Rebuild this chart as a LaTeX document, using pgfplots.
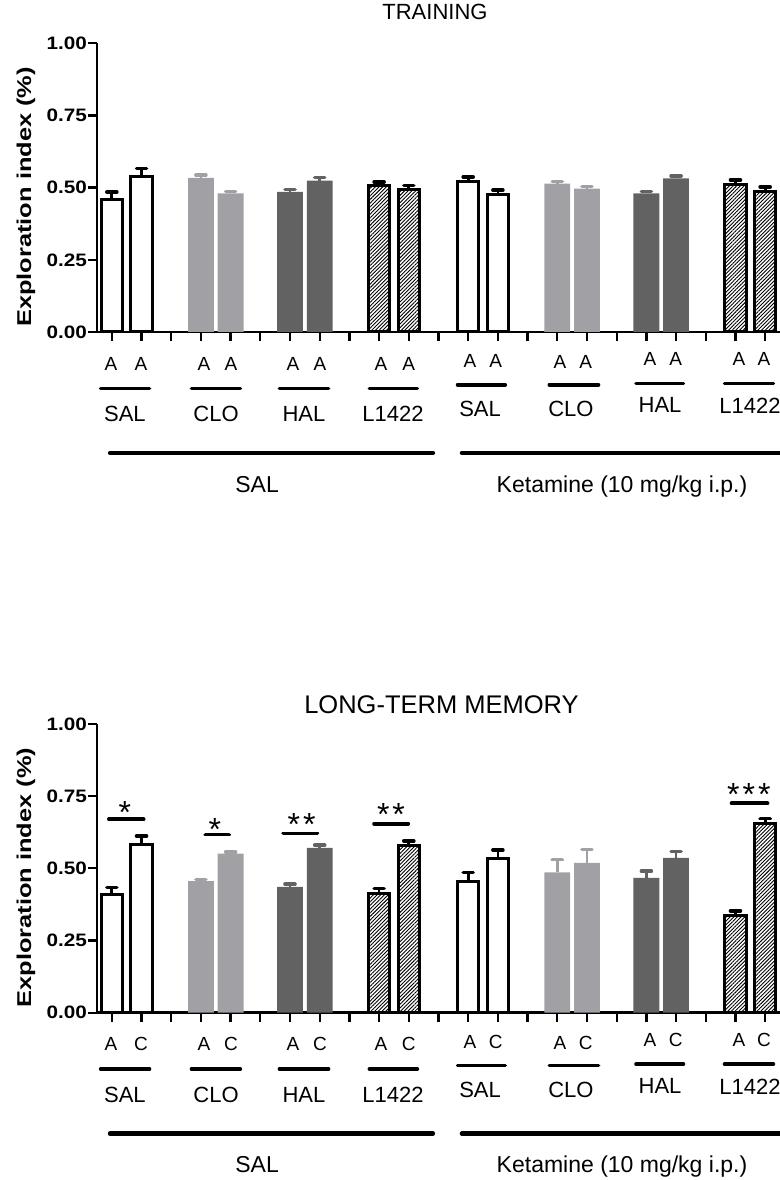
\documentclass[border=0pt]{standalone}
\usepackage{fontspec}
\setmainfont{Liberation Sans}
\usepackage{graphicx}
\usepackage{pgfplots}
\pgfplotsset{compat=1.18}
\usetikzlibrary{patterns.meta}

\definecolor{lgray}{RGB}{161,161,165}
\definecolor{dgray}{RGB}{98,98,98}

\newcommand{\fs}[1]{\fontsize{#1bp}{#1bp}\selectfont}

\pgfplotsset{
  panel/.style={
    scale only axis, width=683bp, height=288.7bp,
    anchor=south west,
    xmin=0.5, xmax=23.5, ymin=0, ymax=1,
    axis lines=left,
    axis line style={line width=2.7bp, -},
    xtick={1,...,23}, xticklabels={},
    ytick={0,0.25,0.5,0.75,1},
    yticklabels={\scalebox{1.15}[1]{0.00},\scalebox{1.15}[1]{0.25},\scalebox{1.15}[1]{0.50},\scalebox{1.15}[1]{0.75},\scalebox{1.15}[1]{1.00}},
    yticklabel style={font=\fs{18}\bfseries, inner sep=1bp},
    tick align=outside, major tick length=9bp,
    tick style={line width=2.3bp, black},
    clip=false,
  },
  wbar/.style={ybar, bar width=0.72, bar shift=0pt, draw=black, fill=white, line width=3bp,
    error bars/.cd, y dir=plus, y explicit, error mark=-,
    error bar style={line width=2.7bp, draw=black},
    error mark options={rotate=90, line width=3.6bp, mark size=5bp, draw=black, line cap=round}},
  hbar/.style={ybar, bar width=0.72, bar shift=0pt, draw=black, line width=3bp,
    pattern={Lines[angle=45,distance=2.6bp,line width=0.9bp]}, pattern color=black,
    error bars/.cd, y dir=plus, y explicit, error mark=-,
    error bar style={line width=2.7bp, draw=black},
    error mark options={rotate=90, line width=3.6bp, mark size=5bp, draw=black, line cap=round}},
  gbar/.style={ybar, bar width=0.87, bar shift=0pt, draw=none, fill=#1,
    error bars/.cd, y dir=plus, y explicit, error mark=-,
    error bar style={line width=2.7bp, draw=#1},
    error mark options={rotate=90, line width=3.6bp, mark size=5bp, draw=#1, line cap=round}},
}

\tikzset{
  lt/.style={anchor=base, font=\fs{19}, inner sep=0pt},
  ct/.style={anchor=base, font=\fs{22}, inner sep=0pt},
  gt/.style={anchor=base, font=\fs{23}, inner sep=0pt},
  st/.style={anchor=base, font=\fs{32}, inner sep=0pt},
  sl/.style={line width=3.5bp, line cap=round},
  ll/.style={line width=4.5bp, line cap=round},
}

% labels under each panel; #1 = second letter of each pair
\newcommand{\annot}[1]{%
  \node[lt] at (axis cs:0.97,-0.132) {A};  \node[lt] at (axis cs:1.98,-0.132) {#1};
  \node[lt] at (axis cs:4.10,-0.132) {A};  \node[lt] at (axis cs:5.01,-0.132) {#1};
  \node[lt] at (axis cs:7.10,-0.132) {A};  \node[lt] at (axis cs:8.01,-0.132) {#1};
  \node[lt] at (axis cs:10.06,-0.132) {A}; \node[lt] at (axis cs:11.00,-0.132) {#1};
  \node[lt] at (axis cs:13.06,-0.123) {A}; \node[lt] at (axis cs:13.93,-0.123) {#1};
  \node[lt] at (axis cs:16.09,-0.128) {A}; \node[lt] at (axis cs:16.96,-0.128) {#1};
  \node[lt] at (axis cs:19.12,-0.116) {A}; \node[lt] at (axis cs:19.99,-0.116) {#1};
  \node[lt] at (axis cs:22.12,-0.116) {A}; \node[lt] at (axis cs:22.96,-0.116) {#1};
  \draw[sl] (axis cs:0.62,-0.195) -- (axis cs:2.27,-0.195);
  \draw[sl] (axis cs:3.68,-0.195) -- (axis cs:5.33,-0.195);
  \draw[sl] (axis cs:6.64,-0.195) -- (axis cs:8.30,-0.195);
  \draw[sl] (axis cs:9.67,-0.195) -- (axis cs:11.29,-0.195);
  \draw[sl] (axis cs:12.64,-0.183) -- (axis cs:14.25,-0.183);
  \draw[sl] (axis cs:15.73,-0.183) -- (axis cs:17.39,-0.183);
  \draw[sl] (axis cs:18.65,-0.178) -- (axis cs:20.25,-0.178);
  \draw[sl] (axis cs:21.63,-0.178) -- (axis cs:23.28,-0.178);
  \node[ct] at (axis cs:1.44,-0.310) {SAL};
  \node[ct] at (axis cs:4.51,-0.310) {CLO};
  \node[ct] at (axis cs:7.47,-0.310) {HAL};
  \node[ct] at (axis cs:10.47,-0.310) {L1422};
  \node[ct] at (axis cs:13.40,-0.293) {SAL};
  \node[ct] at (axis cs:16.46,-0.293) {CLO};
  \node[ct] at (axis cs:19.46,-0.279) {HAL};
  \node[ct] at (axis cs:22.49,-0.282) {L1422};
  \draw[ll] (axis cs:0.94,-0.419) -- (axis cs:11.81,-0.419);
  \draw[ll] (axis cs:12.79,-0.419) -- (axis cs:23.6,-0.419);
  \node[gt] at (axis cs:5.89,-0.555) {SAL};
  \node[gt] at (axis cs:18.18,-0.555) {Ketamine (10 mg/kg i.p.)};
  \node[rotate=90, anchor=base, font=\fs{20}\bfseries, inner sep=0pt] at (axis cs:-1.72,0.468)
    {\scalebox{1.27}[1]{Exploration index (\%)}};
}

\begin{document}
\begin{tikzpicture}
\useasboundingbox (0,0) rectangle (780bp,1180bp);

% ---------------- TRAINING ----------------
\begin{axis}[panel, at={(97bp,848bp)}]
\addplot[wbar] table[row sep=\\, y error=e] {
x y e\\
1 0.460 0.025\\
2 0.538 0.028\\
13 0.521 0.016\\
14 0.477 0.014\\
};
\addplot[gbar=lgray] table[row sep=\\, y error=e] {
x y e\\
4 0.534 0.009\\
5 0.480 0.006\\
16 0.514 0.007\\
17 0.497 0.007\\
};
\addplot[gbar=dgray] table[row sep=\\, y error=e] {
x y e\\
7 0.485 0.009\\
8 0.524 0.011\\
19 0.480 0.006\\
20 0.532 0.009\\
};
\addplot[hbar] table[row sep=\\, y error=e] {
x y e\\
10 0.506 0.014\\
11 0.492 0.016\\
22 0.512 0.014\\
23 0.486 0.017\\
};
\node[anchor=base, font=\fs{22}] at (axis cs:11.88,1.083) {TRAINING};
\annot{A}
\end{axis}

% ---------------- LONG-TERM MEMORY ----------------
\begin{axis}[panel, at={(97bp,167.3bp)}]
\addplot[wbar] table[row sep=\\, y error=e] {
x y e\\
1 0.408 0.026\\
2 0.583 0.029\\
13 0.456 0.029\\
14 0.533 0.030\\
};
\addplot[gbar=lgray] table[row sep=\\, y error=e] {
x y e\\
4 0.456 0.006\\
5 0.551 0.006\\
16 0.486 0.044\\
17 0.519 0.046\\
};
\addplot[gbar=dgray] table[row sep=\\, y error=e] {
x y e\\
7 0.436 0.009\\
8 0.571 0.009\\
19 0.467 0.023\\
20 0.536 0.023\\
};
\addplot[hbar] table[row sep=\\, y error=e] {
x y e\\
10 0.414 0.016\\
11 0.579 0.016\\
22 0.335 0.018\\
23 0.654 0.018\\
};
\node[anchor=base, font=\fs{25.5}] at (axis cs:12.1,1.037) {LONG-TERM MEMORY};
% significance bars
\draw[sl, line width=3.8bp] (axis cs:0.90,0.670) -- (axis cs:2.07,0.670);
\draw[sl, line width=3.8bp] (axis cs:4.15,0.617) -- (axis cs:4.95,0.617);
\draw[sl, line width=3.8bp] (axis cs:6.77,0.621) -- (axis cs:7.92,0.621);
\draw[sl, line width=3.8bp] (axis cs:9.83,0.655) -- (axis cs:10.98,0.655);
\draw[sl, line width=3.8bp] (axis cs:21.87,0.725) -- (axis cs:23.08,0.725);
\node[st] at (axis cs:1.44,0.655) {*};
\node[st] at (axis cs:4.47,0.597) {*};
\node[st] at (axis cs:7.39,0.614) {*\hspace{3bp}*};
\node[st] at (axis cs:10.40,0.649) {*\hspace{3bp}*};
\node[st] at (axis cs:22.45,0.718) {*\hspace{3bp}*\hspace{3bp}*};
\annot{C}
\end{axis}
\end{tikzpicture}
\end{document}
